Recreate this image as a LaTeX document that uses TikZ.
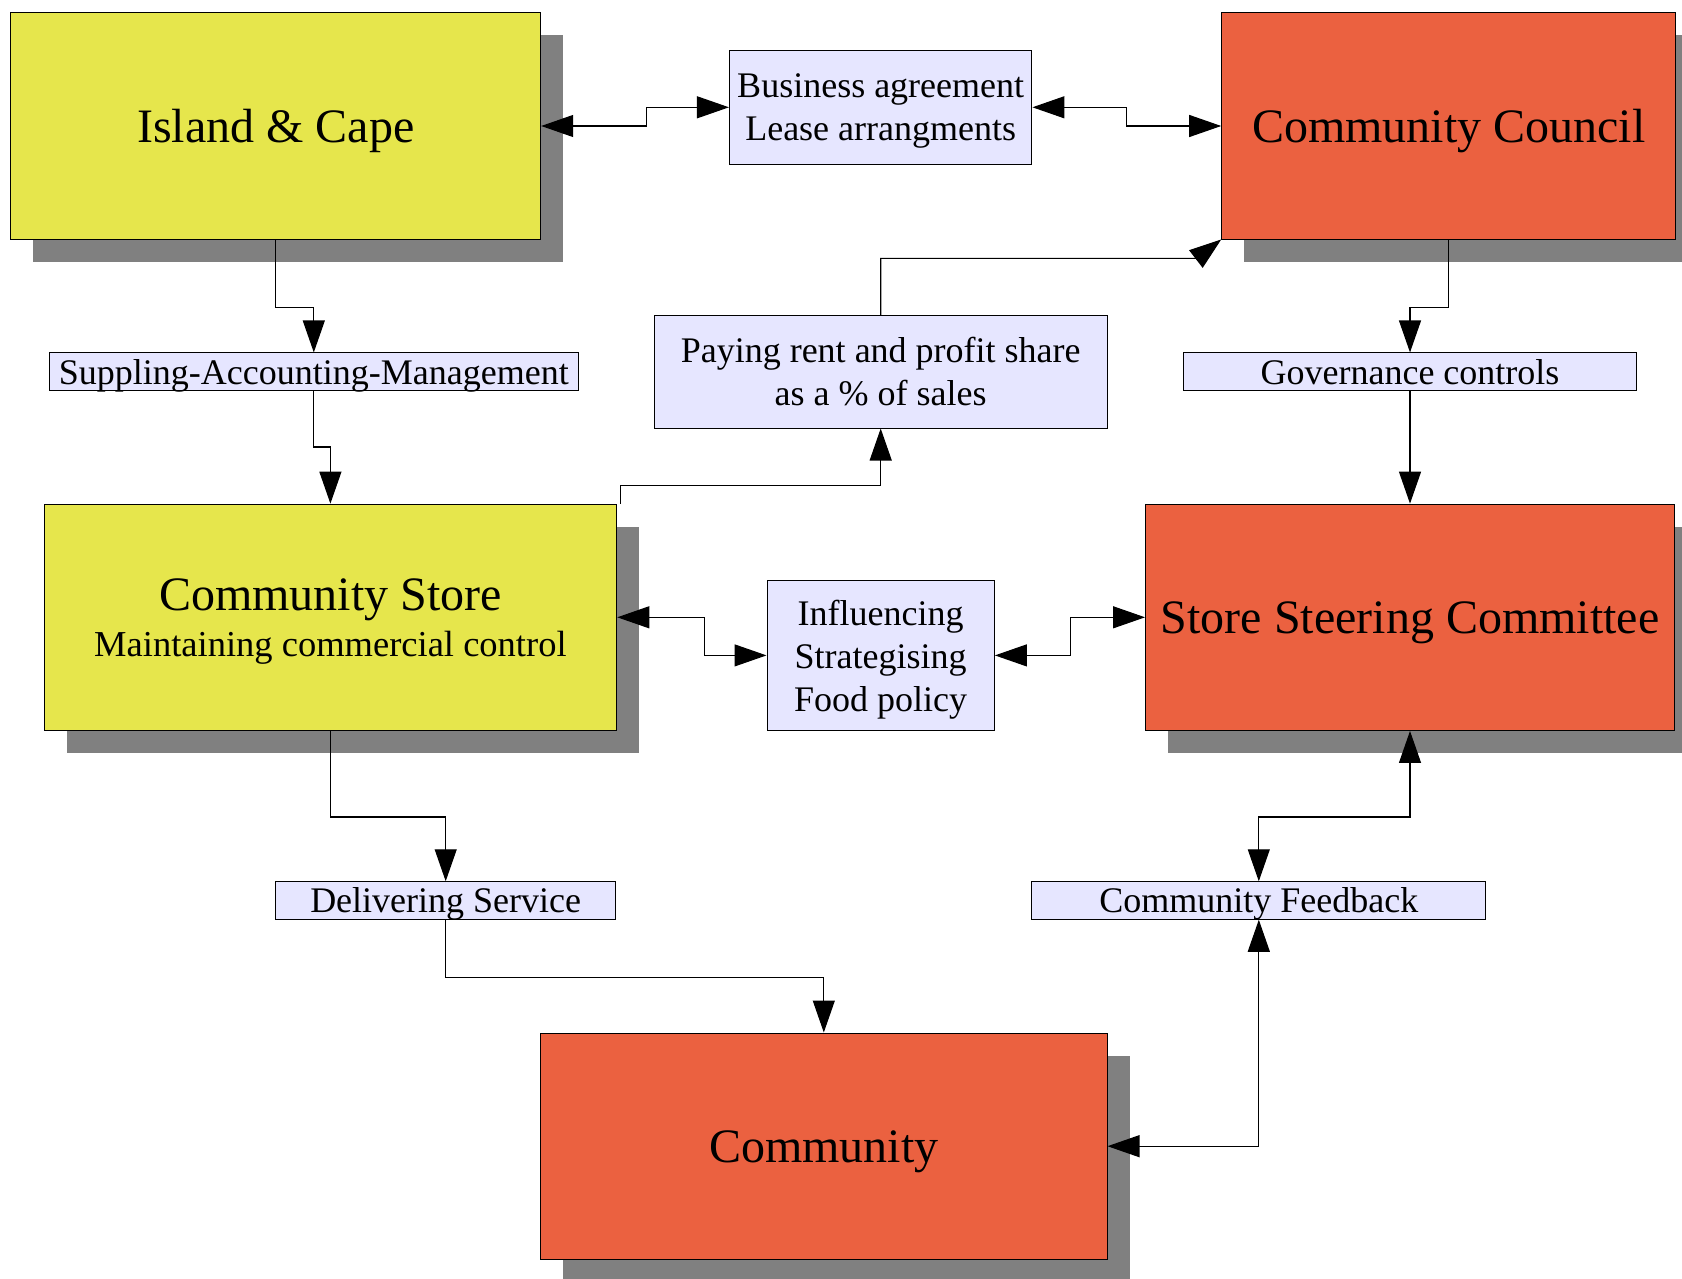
\documentclass[tikz,border=0pt]{standalone}
\usepackage{fontspec}
\setmainfont{Liberation Serif}
\usetikzlibrary{arrows.meta,shadows}
\definecolor{boxyellow}{HTML}{E6E64C}
\definecolor{boxred}{HTML}{EB6140}
\definecolor{boxlav}{HTML}{E6E6FF}
\definecolor{shadowgray}{HTML}{808080}
\tikzset{
  bigbox/.style={draw=black, line width=1pt, inner sep=0pt, align=center, text depth=0pt,
    font=\fontsize{48}{56}\selectfont,
    drop shadow={shadow xshift=22.5pt, shadow yshift=-22.5pt, fill=shadowgray, opacity=1}},
  ybox/.style={bigbox, fill=boxyellow},
  rbox/.style={bigbox, fill=boxred},
  lbox/.style={draw=black, line width=1pt, fill=boxlav, inner sep=0pt, align=center, text depth=0pt,
    font=\fontsize{36}{43}\selectfont},
  tip/.tip={Triangle[length=32pt,width=22pt]},
  conn/.style={line width=1.1pt, -tip},
  bconn/.style={line width=1.1pt, tip-tip},
}
\begin{document}
\begin{tikzpicture}[x=1pt,y=-1pt]
\useasboundingbox (0,0) rectangle (1682,1279);
\clip (0,0) rectangle (1682,1279);
\fill[white] (0,0) rectangle (1682,1279);

% main boxes
\node[ybox, minimum width=530pt, minimum height=226pt] (island) at (275.7,126) {Island \& Cape};
\node[rbox, minimum width=454pt, minimum height=226pt] (council) at (1448.7,126) {Community Council};
\node[ybox, minimum width=572.8pt, minimum height=226.3pt] (store) at (330.4,617.3)
  {Community Store\\[-10pt]{\fontsize{36.5}{43}\selectfont Maintaining commercial control}};
\node[rbox, minimum width=528.9pt, minimum height=226.3pt] (steer) at (1410,617.3) {Store Steering Committee};
\node[rbox, minimum width=566.4pt, minimum height=226.4pt] (comm) at (823.8,1146.2) {Community};

% label boxes
\node[lbox, minimum width=302.5pt, minimum height=113.7pt] (biz) at (880.7,107.3) {Business agreement\\Lease arrangments};
\node[lbox, minimum width=529pt, minimum height=37.5pt] (supp) at (313.8,371.7) {Suppling-Accounting-Management};
\node[lbox, minimum width=452.7pt, minimum height=112.6pt] (pay) at (880.7,371.7) {Paying rent and profit share\\as a \% of sales};
\node[lbox, minimum width=453.8pt, minimum height=37.5pt] (gov) at (1410,371.7) {Governance controls};
\node[lbox, minimum width=227.4pt, minimum height=150.2pt] (infl) at (880.7,655.4) {Influencing\\Strategising\\Food policy};
\node[lbox, minimum width=340pt, minimum height=37.5pt] (deliv) at (445.7,900.5) {Delivering Service};
\node[lbox, minimum width=453.7pt, minimum height=37.5pt] (feed) at (1258.8,900.5) {Community Feedback};

% connectors
\draw[bconn] (island.east) -- ++(105,0) |- (biz.west);
\draw[bconn] (biz.east) -- ++(94,0) |- (council.west);
\draw[conn] (island.south) -- ++(0,68) -| (supp.north);
\draw[conn] (supp.south) -- ++(0,56) -| (store.north);
\coordinate (storecorner) at ([xshift=3pt]store.north east);
\draw[conn] (storecorner) -- ++(0,-18) -| (pay.south);
\draw[conn] (pay.north) -- ++(0,-56.5) -- ++(316,0) -- (council.south west);
\draw[conn] (council.south) -- ++(0,68) -| (gov.north);
\draw[conn] (gov.south) -- (steer.north);
\draw[bconn] (store.east) -- ++(87,0) |- (infl.west);
\draw[bconn] (infl.east) -- ++(75.5,0) |- (steer.west);
\draw[conn] (store.south) -- ++(0,86) -| (deliv.north);
\draw[conn] (deliv.south) -- ++(0,58) -| (comm.north);
\draw[bconn] (steer.south) -- ++(0,86) -| (feed.north);
\draw[bconn] (feed.south) |- (comm.east);
\end{tikzpicture}
\end{document}
